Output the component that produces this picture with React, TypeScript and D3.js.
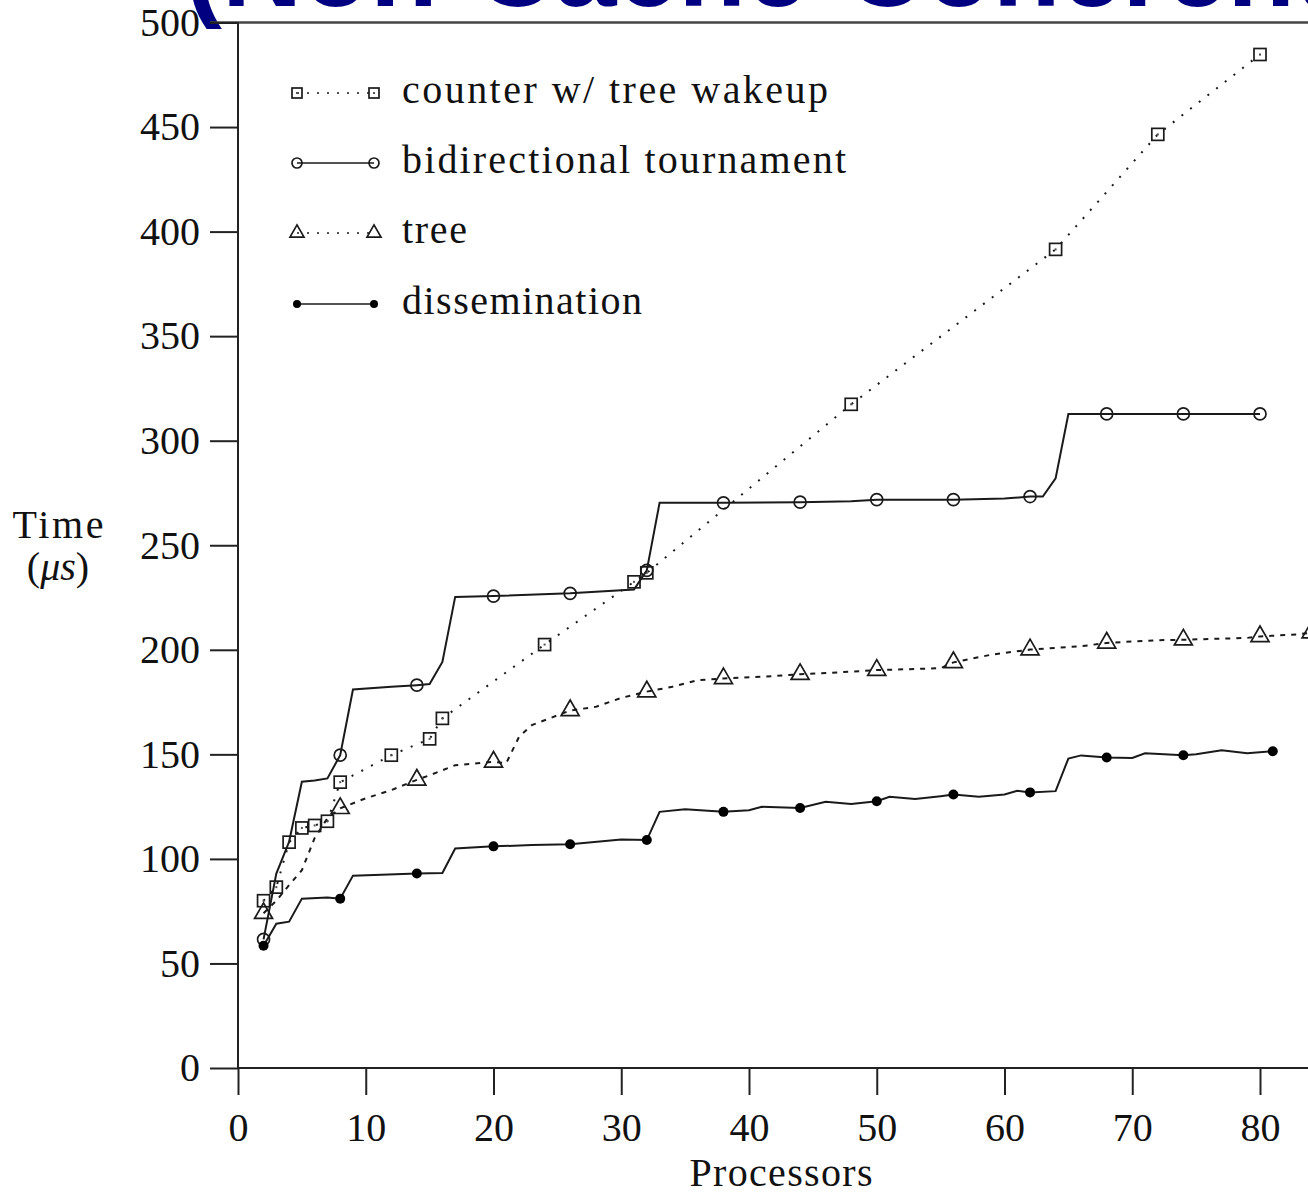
import React, { useRef, useEffect } from "react";
import * as d3 from "d3";

// values
const counterX = [2, 3, 4, 5, 6, 7, 8, 12, 15, 16, 24, 31, 32, 48, 64, 72, 80];
const counterY = [80, 86.5, 108, 114.8, 116, 118, 136.7, 149.6, 157.4, 167.2, 202.5, 232.5, 236.8, 317.4, 391.5, 446.5, 484.7];
const counterMarks = counterX;

const tournamentX = [2, 3, 4, 5, 6, 7, 8, 9, 12, 14, 15, 16, 17, 20, 26, 31, 32, 33, 38, 44, 48, 50, 56, 60, 62, 63, 64, 65, 68, 74, 80];
const tournamentY = [61.5, 93, 108.2, 136.9, 137.5, 138.5, 149.6, 181, 182.3, 183.1, 183.6, 194.2, 225.3, 225.7, 227, 228.8, 238, 270.3, 270.3, 270.6, 271, 271.8, 271.8, 272.3, 273.3, 273.3, 282, 312.8, 312.8, 312.8, 312.8];
const tournamentMarks = [2, 8, 14, 20, 26, 32, 38, 44, 50, 56, 62, 68, 74, 80];

const treeX = [2, 3, 4, 5, 6, 7, 8, 10, 12, 14, 15, 17, 20, 21, 22, 23, 24, 26, 28, 30, 32, 34, 36, 38, 41, 44, 47, 50, 55, 56, 59, 62, 66, 68, 72, 74, 79, 80, 83, 84];
const treeY = [74, 80, 87.5, 94.6, 110, 119.5, 124.2, 129, 132.9, 137.8, 140, 144.8, 146.4, 145.8, 158.4, 164, 166.3, 171, 172.7, 177, 180, 182.3, 185.5, 186.3, 187.1, 188.3, 189.2, 190.3, 191.2, 194, 197.7, 200.1, 201.7, 203.3, 204.6, 204.8, 205.7, 206.4, 207.4, 208.2];
const treeMarks = [2, 8, 14, 20, 26, 32, 38, 44, 50, 56, 62, 68, 74, 80, 84];

const dissemX = [2, 3, 4, 5, 7, 8, 9, 14, 16, 17, 20, 23, 26, 30, 32, 33, 35, 38, 40, 41, 44, 46, 48, 50, 51, 53, 55, 56, 58, 60, 61, 62, 64, 65, 66, 68, 70, 71, 74, 75, 77, 79, 81];
const dissemY = [58.5, 69, 70, 81, 81.5, 81, 92, 93, 93.3, 105, 106, 106.6, 107, 109.3, 109, 122.5, 123.8, 122.5, 123.3, 124.9, 124.3, 127.3, 126.2, 127.6, 129.7, 128.6, 130, 130.8, 129.7, 130.8, 132.6, 131.8, 132.4, 148, 149.5, 148.5, 148.3, 150.5, 149.6, 150, 152, 150.5, 151.5];
const dissemMarks = [2, 8, 14, 20, 26, 32, 38, 44, 50, 56, 62, 68, 74, 81];

const seriesNames = ["counter w/ tree wakeup", "bidirectional tournament", "tree", "dissemination"];
const xTicks = [0, 10, 20, 30, 40, 50, 60, 70, 80];
const yTicks = [0, 50, 100, 150, 200, 250, 300, 350, 400, 450, 500];

const SERIF = "'Liberation Serif', 'Times New Roman', serif";
const INK = "#1a1a1a";

const drawMarker = (g, kind, cx, cy, s) => {
  if (kind === "square") {
    g.append("rect").attr("x", cx - s / 2).attr("y", cy - s / 2).attr("width", s).attr("height", s)
      .attr("fill", "none").attr("stroke", INK).attr("stroke-width", 1.7);
    g.append("rect").attr("x", cx - 1).attr("y", cy - 1).attr("width", 2).attr("height", 2).attr("fill", "#555");
  } else if (kind === "circle") {
    g.append("circle").attr("cx", cx).attr("cy", cy).attr("r", s / 2)
      .attr("fill", "none").attr("stroke", INK).attr("stroke-width", 1.7);
  } else if (kind === "triangle") {
    const h = s * Math.sqrt(3) / 2;
    g.append("path")
      .attr("d", `M${cx},${cy - 2 * h / 3}L${cx + s / 2},${cy + h / 3}L${cx - s / 2},${cy + h / 3}Z`)
      .attr("fill", "none").attr("stroke", INK).attr("stroke-width", 1.7);
  } else {
    g.append("circle").attr("cx", cx).attr("cy", cy).attr("r", s / 2).attr("fill", "#000");
  }
};

const App = () => {
  const svgRef = useRef(null);

  useEffect(() => {
    const svg = d3.select(svgRef.current);
    svg.selectAll("*").remove();

    const x = d3.scaleLinear().domain([0, 84]).range([238, 238 + 84 * 12.775]);
    const y = d3.scaleLinear().domain([0, 500]).range([1068, 22.5]);

    const series = [
      { name: seriesNames[0], xs: counterX, ys: counterY, marks: counterMarks, kind: "square", dash: "2 9", size: 12 },
      { name: seriesNames[1], xs: tournamentX, ys: tournamentY, marks: tournamentMarks, kind: "circle", dash: null, size: 12 },
      { name: seriesNames[2], xs: treeX, ys: treeY, marks: treeMarks, kind: "triangle", dash: "5 6", size: 18 },
      { name: seriesNames[3], xs: dissemX, ys: dissemY, marks: dissemMarks, kind: "dot", dash: null, size: 10 },
    ];

    // title, mostly cut off by the top edge
    svg.append("text")
      .attr("x", 185).attr("y", 6)
      .attr("font-family", "'Liberation Sans', Arial, sans-serif")
      .attr("font-weight", "bold")
      .attr("font-size", 111)
      .attr("fill", "#000080")
      .text("(Non-Cache-Coherent)");

    // frame
    svg.append("line").attr("x1", 210).attr("x2", 1308).attr("y1", 22.5).attr("y2", 22.5)
      .attr("stroke", "#444").attr("stroke-width", 2.5);
    svg.append("line").attr("x1", 238).attr("x2", 238).attr("y1", 22.5).attr("y2", 1068)
      .attr("stroke", "#222").attr("stroke-width", 2);
    svg.append("line").attr("x1", 238).attr("x2", 1308).attr("y1", 1068).attr("y2", 1068)
      .attr("stroke", "#222").attr("stroke-width", 2);

    const yAxis = svg.append("g")
      .attr("transform", "translate(238,0)")
      .call(d3.axisLeft(y).tickValues(yTicks).tickSize(28).tickPadding(10));
    const xAxis = svg.append("g")
      .attr("transform", "translate(0,1068)")
      .call(d3.axisBottom(x).tickValues(xTicks).tickSize(27).tickPadding(18));

    [xAxis, yAxis].forEach((a) => {
      a.select(".domain").remove();
      a.selectAll("line").attr("stroke", "#222").attr("stroke-width", 2);
      a.selectAll("text")
        .attr("font-family", SERIF)
        .attr("font-size", 40)
        .attr("fill", "#111");
    });

    // axis titles
    svg.append("text").attr("x", 58).attr("y", 538).attr("text-anchor", "middle")
      .attr("font-family", SERIF).attr("font-size", 40).attr("fill", "#111")
      .attr("textLength", 91).attr("lengthAdjust", "spacing")
      .text("Time");
    const unit = svg.append("text").attr("x", 58).attr("y", 580).attr("text-anchor", "middle")
      .attr("font-family", SERIF).attr("font-size", 40).attr("fill", "#111");
    unit.append("tspan").text("(");
    unit.append("tspan").attr("font-style", "italic").text("μs");
    unit.append("tspan").text(")");
    svg.append("text").attr("x", 781).attr("y", 1186).attr("text-anchor", "middle")
      .attr("font-family", SERIF).attr("font-size", 40).attr("fill", "#111")
      .attr("textLength", 183).attr("lengthAdjust", "spacing")
      .text("Processors");

    // lines and markers
    const line = d3.line().x((d) => x(d[0])).y((d) => y(d[1]));
    series.forEach((s) => {
      const pts = s.xs.map((v, i) => [v, s.ys[i]]);
      svg.append("path")
        .attr("d", line(pts))
        .attr("fill", "none")
        .attr("stroke", INK)
        .attr("stroke-width", 2)
        .attr("stroke-dasharray", s.dash);
      const mg = svg.append("g");
      s.marks.forEach((m) => {
        const i = s.xs.indexOf(m);
        drawMarker(mg, s.kind, x(m), y(s.ys[i]), s.size);
      });
    });

    // legend
    const legendY = [93, 163, 233, 304];
    const legendLen = [426, 444, 65, 240];
    const legendSize = [10, 10, 14, 8];
    series.forEach((s, i) => {
      const ly = legendY[i];
      const lg = svg.append("g");
      lg.append("line").attr("x1", 297).attr("x2", 374).attr("y1", ly).attr("y2", ly)
        .attr("stroke", INK).attr("stroke-width", 1.6)
        .attr("stroke-dasharray", s.dash ? "2 8" : null);
      drawMarker(lg, s.kind, 297, ly, legendSize[i]);
      drawMarker(lg, s.kind, 374, ly, legendSize[i]);
      lg.append("text").attr("x", 402).attr("y", ly + 10)
        .attr("font-family", SERIF).attr("font-size", 40).attr("fill", "#111")
        .attr("textLength", legendLen[i]).attr("lengthAdjust", "spacing")
        .text(s.name);
    });
  }, []);

  return (
    <svg
      ref={svgRef}
      width={1308}
      height={1194}
      style={{ position: "absolute", left: 0, top: 0, background: "#fff" }}
    ></svg>
  );
};

export default App;
